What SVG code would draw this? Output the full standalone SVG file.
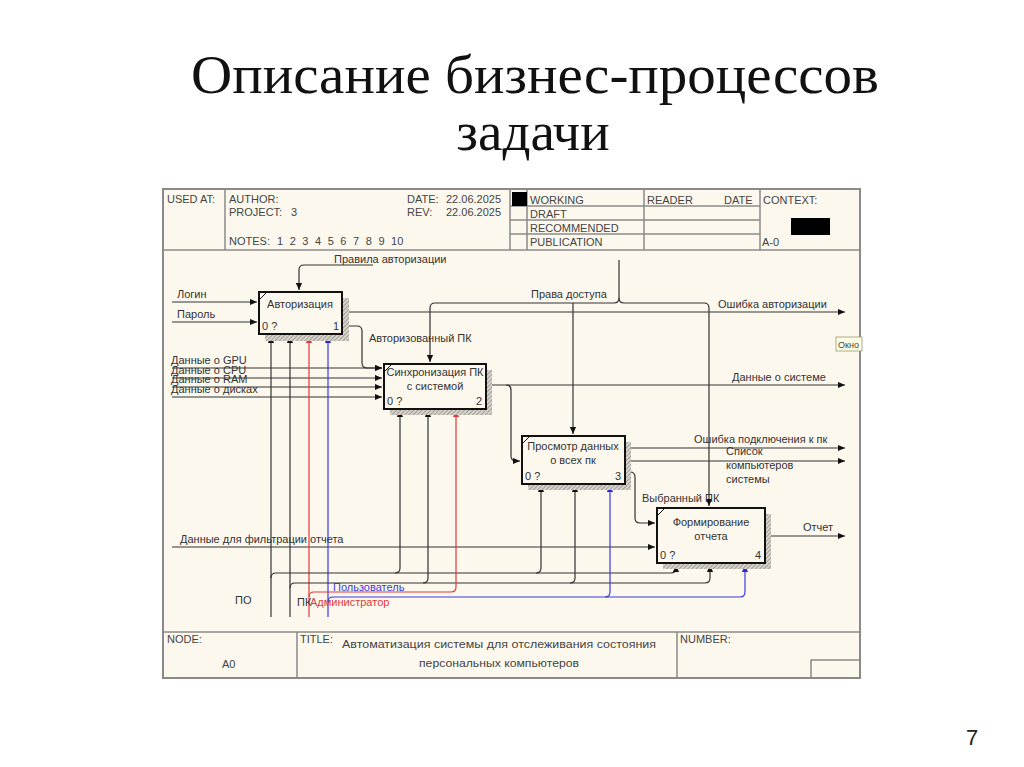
<svg xmlns="http://www.w3.org/2000/svg" width="1024" height="767" viewBox="0 0 1024 767">
<defs>
<style>
.t{font-family:"Liberation Sans",Arial,sans-serif;font-size:11px;fill:#333}
.h{font-family:"Liberation Sans",Arial,sans-serif;font-size:11px;fill:#444}
.c{text-anchor:middle}
.fr{fill:none;stroke:#8a8a8a;stroke-width:1.5}
.box{fill:#fcf8ee;stroke:#111;stroke-width:2}
.sh{fill:url(#hatch)}
.k{fill:none;stroke:#333;stroke-width:1.2;marker-end:url(#ak)}
.kn{fill:none;stroke:#333;stroke-width:1.2}
.ra{fill:none;stroke:#e23a3a;stroke-width:1.2;marker-end:url(#ar)}
.ba{fill:none;stroke:#3a3ae0;stroke-width:1.2;marker-end:url(#ab)}
</style>
<pattern id="hatch" width="3" height="3" patternUnits="userSpaceOnUse" patternTransform="rotate(45)">
<rect width="3" height="3" fill="#d8d4cc"/>
<line x1="0" y1="0" x2="0" y2="3" stroke="#8a8680" stroke-width="1.4"/>
</pattern>
<marker id="ak" viewBox="0 0 8 8" refX="8" refY="4" markerWidth="7" markerHeight="7" markerUnits="userSpaceOnUse" orient="auto"><path d="M0,0.5 L8,4 L0,7.5 Z" fill="#111"/></marker>
<marker id="ar" viewBox="0 0 8 8" refX="8" refY="4" markerWidth="7" markerHeight="7" markerUnits="userSpaceOnUse" orient="auto"><path d="M0,0.5 L8,4 L0,7.5 Z" fill="#e23a3a"/></marker>
<marker id="ab" viewBox="0 0 8 8" refX="8" refY="4" markerWidth="7" markerHeight="7" markerUnits="userSpaceOnUse" orient="auto"><path d="M0,0.5 L8,4 L0,7.5 Z" fill="#2a2ad8"/></marker>
</defs>
<rect width="1024" height="767" fill="#ffffff"/>
<g id="slide-title">
<text x="535" y="93" text-anchor="middle" font-family="'Liberation Serif','Times New Roman',serif" font-size="55" fill="#111" textLength="688" lengthAdjust="spacingAndGlyphs">Описание бизнес-процессов</text>
<text x="533" y="150" text-anchor="middle" font-family="'Liberation Serif','Times New Roman',serif" font-size="55" fill="#111">задачи</text>
<text x="972" y="745" text-anchor="middle" font-family="'Liberation Sans',Arial,sans-serif" font-size="22" fill="#222">7</text>
</g>
<g id="frame">
<rect x="163" y="189" width="697" height="489" fill="#fcf8ee" stroke="#8a8a8a" stroke-width="2"/>
<path class="fr" d="M163,250 H860 M225,189 V250 M510,189 V250 M527,189 V250 M644,189 V250 M760,189 V250 M510,206 H760 M510,220 H760 M510,234 H760"/>
<rect x="512" y="192" width="15" height="14" fill="#000"/>
<rect x="791" y="218" width="39" height="17" fill="#000"/>
<text class="h" x="167" y="203">USED AT:</text>
<text class="h" x="229" y="203">AUTHOR:</text>
<text class="h" x="229" y="216">PROJECT:</text>
<text class="h" x="291" y="216">3</text>
<text class="h" x="229" y="245">NOTES:</text>
<text class="h" x="277" y="245" word-spacing="3.5">1 2 3 4 5 6 7 8 9 10</text>
<text class="h" x="407" y="203">DATE:</text>
<text class="h" x="446" y="203">22.06.2025</text>
<text class="h" x="407" y="216">REV:</text>
<text class="h" x="446" y="216">22.06.2025</text>
<text class="h" x="530" y="204">WORKING</text>
<text class="h" x="530" y="218">DRAFT</text>
<text class="h" x="530" y="232">RECOMMENDED</text>
<text class="h" x="530" y="246">PUBLICATION</text>
<text class="h" x="647" y="204">READER</text>
<text class="h" x="724" y="204">DATE</text>
<text class="h" x="763" y="204">CONTEXT:</text>
<text class="h" x="762" y="246">A-0</text>
<path class="fr" d="M163,632 H860 M297,632 V678 M677,632 V678 M811,678 V660 H860"/>
<text class="h" x="167" y="643">NODE:</text>
<text class="h" x="222" y="668" font-size="14">A0</text>
<text class="h" x="300" y="643">TITLE:</text>
<text class="h c" x="499" y="648" font-size="13" textLength="314" lengthAdjust="spacingAndGlyphs">Автоматизация системы  для отслеживания состояния</text>
<text class="h c" x="499" y="667" font-size="13" textLength="160" lengthAdjust="spacingAndGlyphs">персональных компьютеров</text>
<text class="h" x="680" y="643">NUMBER:</text>
<rect x="836" y="337" width="26" height="14" fill="#fdfde6" stroke="#9a9a70" stroke-width="0.8"/>
<text x="838" y="347.5" font-family="'Liberation Sans',Arial,sans-serif" font-size="9" fill="#444">Окно</text>
</g>
<g id="connectors">
<path class="k" d="M172,302 H257"/>
<path class="k" d="M172,322 H257"/>
<path class="k" d="M373,265 H304 Q299,265 299,270 V290"/>
<path class="k" d="M343,312 H845"/>
<path class="k" d="M343,326 H357 Q362,326 362,331 V363 Q362,368 367,368 H382"/>
<path class="k" d="M172,368 H382"/>
<path class="k" d="M172,378 H382"/>
<path class="k" d="M172,387 H382"/>
<path class="k" d="M172,397 H382"/>
<path class="kn" d="M619,260 V298"/>
<path class="k" d="M619,298 Q619,303 614,303 H435 Q430,303 430,308 V362"/>
<path class="k" d="M619,298 Q619,303 624,303 H704 Q709,303 709,308 V506"/>
<path class="k" d="M573,303 V434"/>
<path class="k" d="M487,385 H845"/>
<path class="k" d="M506,385 Q511,385 511,390 V456 Q511,461 516,461 H520"/>
<path class="k" d="M626,448 H845"/>
<path class="k" d="M626,461 H845"/>
<path class="k" d="M626,472 H630 Q635,472 635,477 V518 Q635,523 640,523 H655"/>
<path class="k" d="M172,547 H655"/>
<path class="k" d="M766,536 H845"/>
<path class="k" d="M271,617 V336"/>
<path class="k" d="M290,617 V336"/>
<path class="ra" d="M309,617 V336"/>
<path class="ba" d="M328,617 V336"/>
<path class="k" d="M271,578 Q271,573 276,573 H671 Q676,573 676,568 V565"/>
<path class="k" d="M395,573 Q400,573 400,568 V410"/>
<path class="k" d="M536,573 Q541,573 541,568 V485"/>
<path class="k" d="M290,588 Q290,583 295,583 H705 Q710,583 710,578 V565"/>
<path class="k" d="M423,583 Q428,583 428,578 V410"/>
<path class="k" d="M570,583 Q575,583 575,578 V485"/>
<path class="ra" d="M309,597 Q309,592 314,592 H451 Q456,592 456,587 V410"/>
<path class="ba" d="M328,602 Q328,597 333,597 H740 Q745,597 745,592 V565"/>
<path class="ba" d="M605,597 Q610,597 610,592 V485"/>
</g>
<g id="labels">
<text class="t" x="177" y="298">Логин</text>
<text class="t" x="177" y="318">Пароль</text>
<text class="t" x="334" y="263">Правила авторизации</text>
<text class="t" x="531" y="298">Права доступа</text>
<text class="t" x="718" y="308">Ошибка авторизации</text>
<text class="t" x="369" y="342">Авторизованный ПК</text>
<text class="t" x="732" y="381">Данные о системе</text>
<text class="t" x="171" y="364">Данные о GPU</text>
<text class="t" x="171" y="374">Данные о CPU</text>
<text class="t" x="171" y="383">Данные о RAM</text>
<text class="t" x="171" y="393">Данные о дисках</text>
<text class="t" x="694" y="443">Ошибка подключения к пк</text>
<text class="t" x="726" y="455">Список</text>
<text class="t" x="726" y="469">компьютеров</text>
<text class="t" x="726" y="483">системы</text>
<text class="t" x="642" y="502">Выбранный ПК</text>
<text class="t" x="803" y="531">Отчет</text>
<text class="t" x="180" y="543">Данные для фильтрации отчета</text>
<text class="t" x="235" y="604">ПО</text>
<text class="t" x="297" y="606">ПК</text>
<text class="t" x="310" y="606" style="fill:#e23a3a">Администратор</text>
<text class="t" x="333" y="591" style="fill:#3a3ae0">Пользователь</text>
</g>
<g id="node-A1">
<rect class="sh" x="265" y="298" width="84" height="43"/>
<rect class="box" x="259" y="292" width="83" height="42"/>
<path d="M260,299 L266,293" stroke="#111" stroke-width="1"/>
<text class="t c" x="300" y="308">Авторизация</text>
<text class="t" x="262" y="330">0 ?</text>
<text class="t" x="333" y="330">1</text>
</g>
<g id="node-A2">
<rect class="sh" x="390" y="370" width="102" height="45"/>
<rect class="box" x="384" y="364" width="102" height="45"/>
<path d="M385,371 L391,365" stroke="#111" stroke-width="1"/>
<text class="t c" x="435" y="376">Синхронизация ПК</text>
<text class="t c" x="435" y="390">с системой</text>
<text class="t" x="387" y="405">0 ?</text>
<text class="t" x="476" y="405">2</text>
</g>
<g id="node-A3">
<rect class="sh" x="528" y="442" width="103" height="48"/>
<rect class="box" x="522" y="436" width="103" height="48"/>
<path d="M523,443 L529,437" stroke="#111" stroke-width="1"/>
<text class="t c" x="573" y="450">Просмотр данных</text>
<text class="t c" x="573" y="464">о всех пк</text>
<text class="t" x="525" y="480">0 ?</text>
<text class="t" x="615" y="480">3</text>
</g>
<g id="node-A4">
<rect class="sh" x="663" y="514" width="108" height="55"/>
<rect class="box" x="657" y="508" width="108" height="55"/>
<path d="M658,515 L664,509" stroke="#111" stroke-width="1"/>
<text class="t c" x="711" y="526">Формирование</text>
<text class="t c" x="711" y="540">отчета</text>
<text class="t" x="660" y="559">0 ?</text>
<text class="t" x="755" y="559">4</text>
</g>
</svg>
